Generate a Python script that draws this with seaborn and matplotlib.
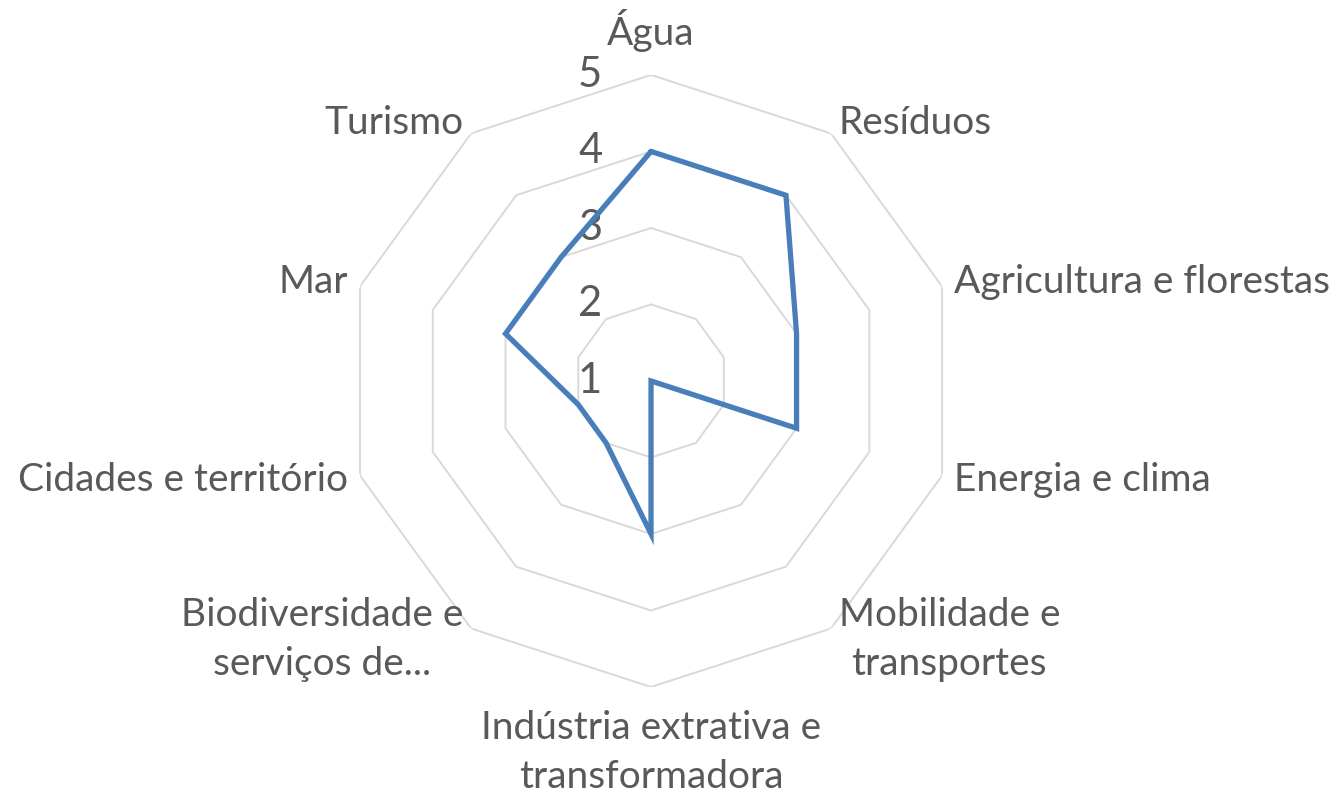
import numpy as np
import matplotlib
matplotlib.use("Agg")
import matplotlib.pyplot as plt
import seaborn as sns

# ---- DONNEES ---- #
categorias = ["Água", "Resíduos", "Agricultura e florestas", "Energia e clima",
              "Mobilidade e\ntransportes", "Indústria extrativa e\ntransformadora",
              "Biodiversidade e\nserviços de...", "Cidades e território", "Mar", "Turismo"]
valores = [4, 4, 3, 3, 1, 3, 2, 2, 3, 3]
niveis = [1, 2, 3, 4, 5]

sns.set_theme(style="white")
plt.rcParams["font.family"] = ["Lato", "DejaVu Sans"]

cinza_txt = "#595959"
cinza_grid = "#d9d9d9"
azul = "#4a7ebb"

n = len(categorias)
angulos = np.linspace(0, 2 * np.pi, n, endpoint=False)
ang_fech = np.append(angulos, angulos[0])

fig = plt.figure(figsize=(13.44, 7.97), dpi=100)
ax = fig.add_axes([0.2567, 0.138, 0.4554, 0.768], projection="polar")
ax.set_theta_offset(np.pi / 2)
ax.set_theta_direction(-1)
ax.set_ylim(1, 5)
ax.grid(False)
ax.spines["polar"].set_visible(False)
ax.set_xticks([])
ax.set_yticks([])

# anneaux en décagone
for nv in niveis[1:]:
    ax.plot(ang_fech, [nv] * (n + 1), color=cinza_grid, lw=1.4, zorder=1)

# série
ax.plot(ang_fech, valores + [valores[0]], color=azul, lw=3.8, zorder=3,
        solid_joinstyle="miter")

# étiquettes des niveaux
for nv in niveis:
    ax.annotate(str(nv), xy=(0, nv), xytext=(-61, 0), textcoords="offset pixels",
                ha="center", va="center", fontsize=30, color=cinza_txt, zorder=2)

# étiquettes des catégories
for a, cat in zip(angulos, categorias):
    s, c = np.sin(a), np.cos(a)
    if abs(s) < 0.1:
        ha = "center"
        va = "bottom" if c > 0 else "top"
        r = 5.3
    else:
        ha = "left" if s > 0 else "right"
        va = "center"
        r = 5.17
    ax.text(a, r, cat, ha=ha, va=va, fontsize=28, color=cinza_txt,
            linespacing=1.45, multialignment="center")

plt.savefig("out.png", dpi=100)
plt.close()
